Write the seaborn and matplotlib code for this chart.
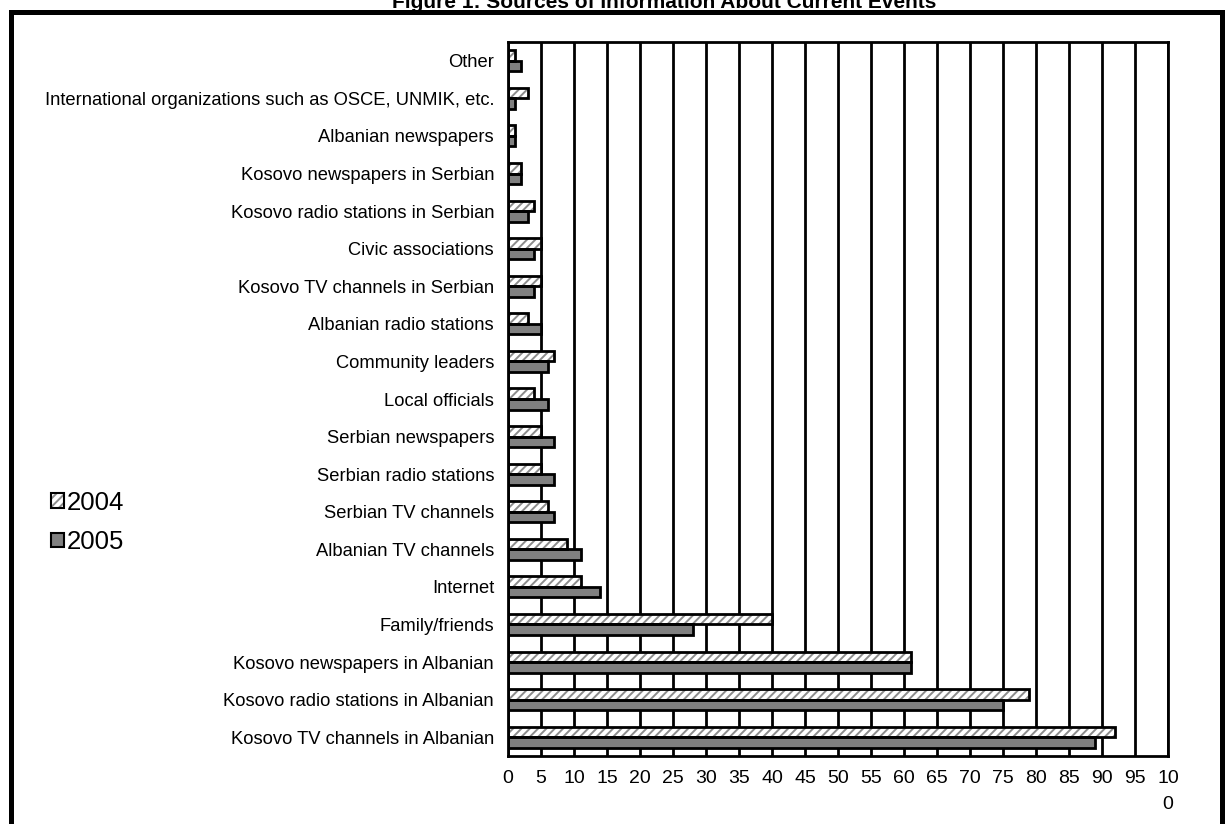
import matplotlib
matplotlib.use("Agg")
import matplotlib.pyplot as plt
from matplotlib.patches import Patch, Rectangle
from matplotlib.legend_handler import HandlerTuple
import pandas as pd
import seaborn as sns

sources = [
    "Other",
    "International organizations such as OSCE, UNMIK, etc.",
    "Albanian newspapers",
    "Kosovo newspapers in Serbian",
    "Kosovo radio stations in Serbian",
    "Civic associations",
    "Kosovo TV channels in Serbian",
    "Albanian radio stations",
    "Community leaders",
    "Local officials",
    "Serbian newspapers",
    "Serbian radio stations",
    "Serbian TV channels",
    "Albanian TV channels",
    "Internet",
    "Family/friends",
    "Kosovo newspapers in Albanian",
    "Kosovo radio stations in Albanian",
    "Kosovo TV channels in Albanian",
]
values_2004 = [1, 3, 1, 2, 4, 5, 5, 3, 7, 4, 5, 5, 6, 9, 11, 40, 61, 79, 92]
values_2005 = [2, 1, 1, 2, 3, 4, 4, 5, 6, 6, 7, 7, 7, 11, 14, 28, 61, 75, 89]
years = ["2004", "2005"]
x_ticks = list(range(0, 101, 5))
x_labels = [str(t) for t in x_ticks[:-1]] + ["10\n0"]

df = pd.DataFrame({
    "source": sources * 2,
    "value": values_2004 + values_2005,
    "year": [years[0]] * len(sources) + [years[1]] * len(sources),
})

sns.set_style("white")
plt.rcParams["font.family"] = ["Liberation Sans", "DejaVu Sans"]
plt.rcParams["text.color"] = "black"
plt.rcParams["xtick.color"] = "black"
plt.rcParams["ytick.color"] = "black"
plt.rcParams["hatch.linewidth"] = 1.4

fig = plt.figure(figsize=(12.27, 8.24), dpi=100)
ax = fig.add_axes([508 / 1227, 1 - 756 / 824, 660 / 1227, 714 / 824])

sns.barplot(data=df, x="value", y="source", hue="year", hue_order=years,
            order=sources, orient="h", width=0.56, ax=ax,
            palette={"2004": "white", "2005": "#808080"},
            edgecolor="black", linewidth=2, legend=False)

# hatched 2004 bars: gray hatch, black outline drawn on top
for bar in ax.containers[0]:
    bar.set_hatch("////")
    bar.set_edgecolor("#8c8c8c")
    bar.set_linewidth(0)
    ax.add_patch(Rectangle(bar.get_xy(), bar.get_width(), bar.get_height(),
                           fill=False, edgecolor="black", linewidth=2, zorder=bar.get_zorder() + 0.1))

ax.set_xlim(0, 100)
ax.set_ylim(len(sources) - 0.5, -0.5)
ax.set_xticks(x_ticks)
ax.set_xticklabels(x_labels, fontsize=14, linespacing=1.7, va="top")
ax.xaxis.grid(True, color="black", linewidth=2)
ax.set_axisbelow(True)
ax.tick_params(axis="x", direction="out", length=7, width=2, pad=3)
ax.tick_params(axis="y", which="major", length=0, pad=10, labelsize=13.2)
ax.set_yticks([i - 0.5 for i in range(len(sources) + 1)], minor=True)
ax.tick_params(axis="y", which="minor", direction="out", length=7, width=2)
ax.set_xlabel("")
ax.set_ylabel("")
for side in ["left", "right", "top", "bottom"]:
    ax.spines[side].set_visible(True)
    ax.spines[side].set_color("black")
    ax.spines[side].set_linewidth(2)

h2004 = (Patch(facecolor="white", edgecolor="#8c8c8c", hatch="////", linewidth=0),
         Patch(fill=False, edgecolor="black", linewidth=1.5))
h2005 = Patch(facecolor="#808080", edgecolor="black", linewidth=1.5)
fig.legend([h2004, h2005], years, loc="center left", bbox_to_anchor=(0.023, 0.366),
           frameon=False, fontsize=18.5, handlelength=0.5, handleheight=0.5,
           handletextpad=0.1, labelspacing=0.6,
           handler_map={tuple: HandlerTuple(ndivide=1, pad=0)})

# outer frame and title cut by the top edge
fig.patches.append(Rectangle((10.5 / 1227, -0.05), 1211.5 / 1227, 1.05 - 12 / 824,
                             transform=fig.transFigure, fill=False,
                             edgecolor="black", linewidth=3.6))
fig.text(664 / 1227, 1 - 8 / 824, "Figure 1: Sources of Information About Current Events",
         ha="center", va="baseline", fontsize=15, fontweight="bold")

fig.savefig("out.png", dpi=100)
